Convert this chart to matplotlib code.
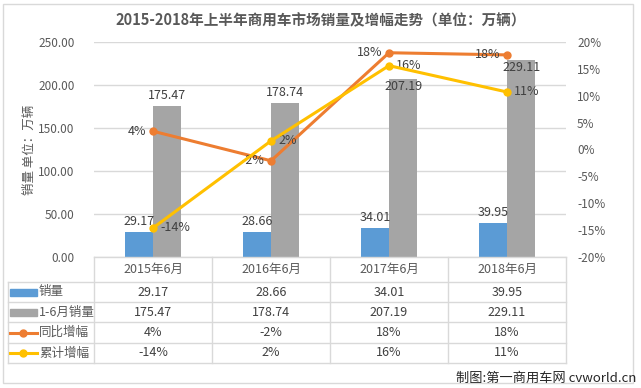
import numpy as np
import matplotlib
matplotlib.use('Agg')
import matplotlib.pyplot as plt
from matplotlib.patches import Rectangle
from matplotlib.lines import Line2D

plt.rcParams['font.family'] = ['Noto Sans CJK SC', 'DejaVu Sans']

# data
months = ['2015年6月', '2016年6月', '2017年6月', '2018年6月']
sales_jun = [29.17, 28.66, 34.01, 39.95]
sales_h1 = [175.47, 178.74, 207.19, 229.11]
yoy = [3.4, -2.1, 18.0, 17.6]          # 同比增幅 (%)
cum = [-14.6, 1.6, 15.6, 10.7]         # 累计增幅 (%)
yoy_lbl = ['4%', '-2%', '18%', '18%']
cum_lbl = ['-14%', '2%', '16%', '11%']

BLUE = '#5B9BD5'
GRAY = '#A5A5A5'
ORANGE = '#ED7D31'
YELLOW = '#FFC000'
TXT = '#595959'
GRID = '#D9D9D9'

W, H = 641, 388
fig = plt.figure(figsize=(W / 100, H / 100), dpi=100)

def px_axes(x0, y0, x1, y1):
    return fig.add_axes([x0 / W, 1 - y1 / H, (x1 - x0) / W, (y1 - y0) / H])

# chart border
fig.add_artist(Rectangle((3 / W, 1 - 383 / H), 630 / W, 379 / H, transform=fig.transFigure,
                         fill=False, edgecolor=GRID, lw=1))

ax = px_axes(94, 42, 566, 257)
x = np.arange(len(months))
bw = 0.24
b1 = ax.bar(x - bw / 2, sales_jun, bw, color=BLUE, zorder=2)
b2 = ax.bar(x + bw / 2, sales_h1, bw, color=GRAY, zorder=2)
ax.set_xlim(-0.5, 3.5)
ax.set_ylim(0, 250)
ax.set_yticks(np.arange(0, 251, 50))
ax.set_yticklabels([f'{v:.2f}' for v in np.arange(0, 251, 50)])
ax.set_xticks([])
ax.grid(axis='y', color=GRID, lw=1, zorder=0)
for s in ax.spines.values():
    s.set_visible(False)
ax.tick_params(axis='y', length=0, labelsize=8.5, labelcolor=TXT, pad=14)
ax.set_ylabel('销量 单位：万辆', fontsize=9, color=TXT, labelpad=2)

for r, v in zip(b1, sales_jun):
    ax.annotate(f'{v:.2f}', (r.get_x() + r.get_width() / 2, v), xytext=(0, 4),
                textcoords='offset pixels', ha='center', va='bottom', fontsize=9, color='#404040')
gray_off = [4, 4, -14, -14]
for r, v, o in zip(b2, sales_h1, gray_off):
    ax.annotate(f'{v:.2f}', (r.get_x() + r.get_width() / 2, v), xytext=(0, o),
                textcoords='offset pixels', ha='center', va='bottom', fontsize=9, color='#404040')

ax2 = ax.twinx()
ax2.set_ylim(-20, 20)
ax2.set_yticks(np.arange(-20, 21, 5))
ax2.set_yticklabels([f'{v}%' for v in range(-20, 21, 5)])
for s in ax2.spines.values():
    s.set_visible(False)
ax2.tick_params(axis='y', length=0, labelsize=8.5, labelcolor=TXT, pad=8)
ax2.plot(x, yoy, color=ORANGE, lw=2.2, marker='o', ms=5, zorder=3)
ax2.plot(x, cum, color=YELLOW, lw=2.2, marker='o', ms=5, zorder=4)
for xi, v, t in zip(x, yoy, yoy_lbl):
    ax2.annotate(t, (xi, v), xytext=(-7, 0), textcoords='offset pixels',
                 ha='right', va='center', fontsize=9, color='#404040')
for xi, v, t in zip(x, cum, cum_lbl):
    ax2.annotate(t, (xi, v), xytext=(7, 0), textcoords='offset pixels',
                 ha='left', va='center', fontsize=9, color='#404040')

fig.text(0.5, 1 - 20 / H, '2015-2018年上半年商用车市场销量及增幅走势（单位：万辆）',
         ha='center', va='center', fontsize=10.5, fontweight='bold', color=TXT)

# data table under the chart
tb = px_axes(8, 257, 566, 363)
tb.set_xlim(-0.5 - 86 / 118, 3.5)
tb.set_ylim(106, 0)
tb.axis('off')
rows = [0, 25, 45, 65, 86, 106]
xl = -0.5 - 86 / 118
for yy in rows[1:]:
    tb.plot([xl, 3.5], [yy, yy], color=GRID, lw=1, clip_on=False)
tb.plot([-0.5, 3.5], [0, 0], color=GRID, lw=1, clip_on=False)
tb.plot([xl, xl], [rows[1], rows[-1]], color=GRID, lw=1, clip_on=False)
for xv in np.arange(-0.5, 3.6, 1):
    tb.plot([xv, xv], [0, rows[-1]], color=GRID, lw=1, clip_on=False)

for xi, m in zip(x, months):
    tb.text(xi, (rows[0] + rows[1]) / 2, m, ha='center', va='center', fontsize=9, color=TXT)
table_rows = [
    ('销量', [f'{v:.2f}' for v in sales_jun]),
    ('1-6月销量', [f'{v:.2f}' for v in sales_h1]),
    ('同比增幅', yoy_lbl),
    ('累计增幅', cum_lbl),
]
kx0 = xl + 2 / 118
kx1 = xl + 29 / 118
for i, (name, vals) in enumerate(table_rows):
    yc = (rows[i + 1] + rows[i + 2]) / 2
    tb.text(kx1 + 2 / 118, yc, name, ha='left', va='center', fontsize=9, color=TXT)
    for xi, v in zip(x, vals):
        tb.text(xi, yc, v, ha='center', va='center', fontsize=9, color='#404040')
    if i == 0:
        tb.add_patch(Rectangle((kx0, yc - 3.5), kx1 - kx0, 7, color=BLUE))
    elif i == 1:
        tb.add_patch(Rectangle((kx0, yc - 3.5), kx1 - kx0, 7, color=GRAY))
    else:
        c = ORANGE if i == 2 else YELLOW
        tb.add_line(Line2D([kx0, kx1], [yc, yc], color=c, lw=2.2))
        tb.plot([(kx0 + kx1) / 2], [yc], 'o', color=c, ms=5)

fig.text(636 / W, 1 - 378 / H, '制图:第一商用车网 cvworld.cn', ha='right', va='center',
         fontsize=9.5, color='#262626')

fig.savefig('out.png', dpi=100)
